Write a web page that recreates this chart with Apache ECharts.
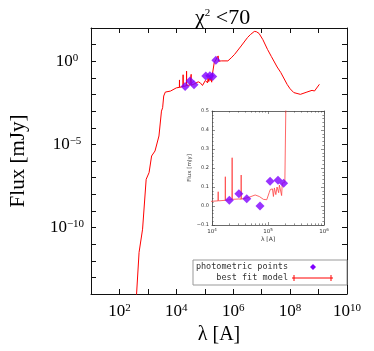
<!DOCTYPE html>
<html><head><meta charset="utf-8">
<script src="https://cdn.jsdelivr.net/npm/echarts@6/dist/echarts.min.js"></script>
<style>html,body{margin:0;padding:0;background:#fff}#c{width:374px;height:351px}</style>
</head><body><div id="c"></div>
<script>
// ---- data ----
const modelWave = [3.9e2, 4.9e2, 6.5e2, 8.7e2, 1.1e3, 1.35e3, 1.78e3, 2.45e3, 3.0e3, 3.3e3, 3.6e3, 4.1e3, 6.2e3, 1.0e4,
  1.28e4, 1.29e4, 1.30e4, 1.72e4, 1.73e4, 1.74e4, 2.0e4, 2.27e4, 2.29e4, 2.31e4, 3.0e4, 3.3e4, 3.32e4, 3.34e4,
  4.5e4, 5.9e4, 7.0e4, 8.3e4, 9.5e4, 1.05e5, 1.1e5, 1.2e5, 1.25e5, 1.3e5, 1.38e5, 1.45e5, 1.55e5, 1.6e5, 1.7e5, 1.75e5, 1.8e5, 2.0e5, 2.1e5,
  2.15e5, 2.5e5, 2.95e5, 3.1e5, 3.8e5, 4.4e5, 6.5e5, 8.5e5, 1.12e6, 1.9e6, 3.2e6, 4.0e6, 5.5e6, 6.5e6, 8.1e6, 1.1e7, 1.6e7, 2.2e7,
  3.5e7, 4.7e7, 7.9e7, 1.0e8, 1.35e8, 2.3e8, 3.9e8, 5.9e8, 7.2e8, 1.07e9];
const modelFlux = [5e-15, 3.2e-12, 7.9e-11, 7.9e-8, 2.0e-7, 2.0e-6, 4.0e-6, 3.2e-5, 1.0e-3, 1.6e-3, 8.1e-3, 1.4e-2, 1.6e-2, 2.5e-2,
  0.027, 0.075, 0.027, 0.030, 0.154, 0.030, 0.032, 0.034, 0.254, 0.035, 0.037, 0.036, 0.163, 0.036,
  0.045, 0.058, 0.050, 0.035, 0.033, 0.070, 0.087, 0.090, 0.050, 0.095, 0.060, 0.100, 0.070, 0.110, 0.120, 0.055, 0.120, 0.125, 0.130,
  0.83, 0.90, 2.1, 1.0, 1.05, 1.0, 1.05, 1.6, 2.6, 8.3, 27, 40, 62, 60, 47, 20, 5.2, 1.9,
  0.45, 0.21, 0.04, 0.022, 0.013, 0.0102, 0.014, 0.0178, 0.0162, 0.041];
const photWave = [2.04e4, 3.02e4, 4.17e4, 7.2e4, 1.09e5, 1.51e5, 1.9e5, 2.45e5];
const photFlux = [0.030, 0.065, 0.038, 0.0, 0.13, 0.135, 0.12, 1.15];

const mainXLabelExps = [2, 4, 6, 8, 10];
const mainYLabelExps = [-10, -5, 0];
const insetXLabelExps = [4, 5, 6];
const insetXMinorTicks = [2e4,3e4,4e4,5e4,6e4,7e4,8e4,9e4,2e5,3e5,4e5,5e5,6e5,7e5,8e5,9e5];

const titleMain = 'χ', titleSup = '2', titleRest = ' <70';
const xName = 'λ [A]', yName = 'Flux [mJy]';
const legendNames = ['photometric points', 'best fit model'];

// ---- helpers ----
const RED = '#ff0000', PURPLE = '#7f00ff';
const serif = '"Liberation Serif", "DejaVu Serif", serif';
const expOf = v => Math.round(Math.log10(v));
const sup = e => String(e).replace('-', '\u2212');
const mainRich = {
  b: { fontFamily: serif, fontSize: 17, color: '#000', lineHeight: 17 },
  e: { fontFamily: serif, fontSize: 11, color: '#000', verticalAlign: 'top', lineHeight: 11, padding: [0, 0, 6, 0] }
};
const insetRich = {
  b: { fontFamily: 'DejaVu Sans', fontSize: 5.5, color: '#333' },
  e: { fontFamily: 'DejaVu Sans', fontSize: 4, color: '#333', padding: [0, 0, 3, 0] }
};

const modelPts = modelWave.map((w, i) => [w, modelFlux[i]]);
const photPtsLin = photWave.map((w, i) => [w, photFlux[i]]);
const photPtsLog = photWave.map((w, i) => [w, photFlux[i]]).filter(p => p[1] > 0);

const axCol = '#111';
function mainX(pos, labels) {
  return {
    type: 'log', logBase: 10, gridIndex: 0, position: pos, min: 1e1, max: 1e10, interval: 1,
    axisLine: { onZero: false, lineStyle: { color: axCol, width: 1 } },
    axisTick: { inside: true, length: 5, lineStyle: { color: axCol } },
    splitLine: { show: false }, minorTick: { show: false },
    axisLabel: labels ? {
      margin: 9, rich: mainRich, showMinLabel: true, showMaxLabel: true,
      formatter: v => { const e = expOf(v); return mainXLabelExps.includes(e) ? '{b|10}{e|' + sup(e) + '}' : ''; }
    } : { show: false },
    name: labels ? xName : '', nameLocation: 'middle', nameGap: 30,
    nameTextStyle: { fontFamily: serif, fontSize: 20, color: '#000' }
  };
}
function mainY(pos, labels) {
  return {
    type: 'log', logBase: 10, gridIndex: 0, position: pos, min: 1e-14, max: 1e2, interval: 1,
    axisLine: { onZero: false, lineStyle: { color: axCol, width: 1 } },
    axisTick: { inside: true, length: 5, lineStyle: { color: axCol } },
    splitLine: { show: false }, minorTick: { show: false },
    axisLabel: labels ? {
      margin: 24, align: 'center', rich: mainRich,
      formatter: v => { const e = expOf(v); return mainYLabelExps.includes(e) ? '{b|10}{e|' + sup(e) + '}' : ''; }
    } : { show: false },
    name: labels ? yName : '', nameLocation: 'middle', nameGap: 62, nameRotate: 90,
    nameTextStyle: { fontFamily: serif, fontSize: 21, color: '#000' }
  };
}
const inCol = '#444';
function insetX(pos, labels) {
  return {
    type: 'log', logBase: 10, gridIndex: 1, position: pos, min: 1e4, max: 1e6, interval: 1,
    axisLine: { onZero: false, lineStyle: { color: inCol, width: 0.8 } },
    axisTick: { inside: true, length: 3, lineStyle: { color: inCol, width: 0.6 } },
    splitLine: { show: false }, minorTick: { show: false },
    axisLabel: labels ? {
      margin: 3, rich: insetRich,
      formatter: v => { const e = expOf(v); return insetXLabelExps.includes(e) ? '{b|10}{e|' + e + '}' : ''; }
    } : { show: false },
    name: labels ? xName : '', nameLocation: 'middle', nameGap: 11,
    nameTextStyle: { fontFamily: 'DejaVu Sans', fontSize: 6, color: '#333' }
  };
}
function insetXMinor(pos) {
  return {
    type: 'log', logBase: 10, gridIndex: 1, position: pos, min: 1e4, max: 1e6,
    axisLine: { show: false, onZero: false },
    axisTick: { inside: true, length: 1.6, customValues: insetXMinorTicks, lineStyle: { color: inCol, width: 0.6 } },
    axisLabel: { show: false }, splitLine: { show: false }
  };
}
function insetY(pos, labels) {
  return {
    type: 'value', gridIndex: 1, position: pos, min: -0.1, max: 0.5, interval: 0.1,
    axisLine: { onZero: false, lineStyle: { color: inCol, width: 0.8 } },
    axisTick: { inside: true, length: 3, lineStyle: { color: inCol, width: 0.6 } },
    minorTick: { show: true, splitNumber: 5, length: 1.6, lineStyle: { color: inCol, width: 0.6 } },
    splitLine: { show: false },
    axisLabel: labels ? {
      margin: 3, fontFamily: 'DejaVu Sans', fontSize: 5, color: '#333',
      formatter: v => v.toFixed(1).replace('-', '\u2212')
    } : { show: false },
    name: labels ? yName : '', nameLocation: 'middle', nameGap: 17, nameRotate: 90,
    nameTextStyle: { fontFamily: 'DejaVu Sans', fontSize: 5.5, color: '#444' }
  };
}

const chart = echarts.init(document.getElementById('c'), null, { renderer: 'canvas' });
chart.setOption({
  animation: false,
  backgroundColor: '#fff',
  title: {
    text: '{a|' + titleMain + '}{s|' + titleSup + '}{a|' + titleRest + '}',
    left: 190, top: 2,
    textStyle: { fontWeight: 'normal', rich: {
      a: { fontFamily: serif, fontSize: 22, fontWeight: 'normal', color: '#000' },
      s: { fontFamily: serif, fontSize: 11, fontWeight: 'normal', color: '#000', padding: [0, 0, 9, 0] }
    } }
  },
  grid: [
    { left: 88, top: 28, width: 259, height: 266 },
    { left: 212, top: 111, width: 112, height: 114, show: true, backgroundColor: '#fff', borderWidth: 0 }
  ],
  xAxis: [mainX('bottom', true), mainX('top', false), insetX('bottom', true), insetX('top', false), insetXMinor('bottom'), insetXMinor('top')],
  yAxis: [mainY('left', true), mainY('right', false), insetY('left', true), insetY('right', false)],
  series: [
    { name: legendNames[1], type: 'line', xAxisIndex: 0, yAxisIndex: 0, data: modelPts, showSymbol: false,
      lineStyle: { color: RED, width: 1 }, clip: true, z: 2 },
    { name: legendNames[0], type: 'scatter', xAxisIndex: 0, yAxisIndex: 0, data: photPtsLog, symbol: 'diamond',
      symbolSize: 9, itemStyle: { color: PURPLE }, z: 3 },
    { name: legendNames[1], type: 'line', xAxisIndex: 2, yAxisIndex: 2, data: modelPts, showSymbol: false,
      lineStyle: { color: '#ff4040', width: 0.8 }, clip: true, z: 2 },
    { name: legendNames[0], type: 'scatter', xAxisIndex: 2, yAxisIndex: 2, data: photPtsLin, symbol: 'diamond',
      symbolSize: 9, itemStyle: { color: PURPLE }, clip: true, z: 3 }
  ],
  graphic: [
    { type: 'rect', z: 50, shape: { x: 193, y: 260, width: 154, height: 25 }, style: { fill: '#fff', stroke: '#999', lineWidth: 1 } },
    { type: 'text', z: 51, style: { text: legendNames[0], x: 288, y: 267, align: 'right', verticalAlign: 'middle', font: '8.5px "DejaVu Sans Mono"', fill: '#333' } },
    { type: 'text', z: 51, style: { text: legendNames[1], x: 288, y: 278, align: 'right', verticalAlign: 'middle', font: '8.5px "DejaVu Sans Mono"', fill: '#333' } },
    { type: 'polygon', z: 51, shape: { points: [[313, 264], [316, 267], [313, 270], [310, 267]] }, style: { fill: PURPLE } },
    { type: 'polyline', z: 51, shape: { points: [[292, 278], [333, 278]] }, style: { stroke: RED, lineWidth: 1 } },
    { type: 'polyline', z: 51, shape: { points: [[294, 275], [294, 281]] }, style: { stroke: RED, lineWidth: 1 } },
    { type: 'polyline', z: 51, shape: { points: [[331, 275], [331, 281]] }, style: { stroke: RED, lineWidth: 1 } }
  ]
});
</script>
</body></html>
